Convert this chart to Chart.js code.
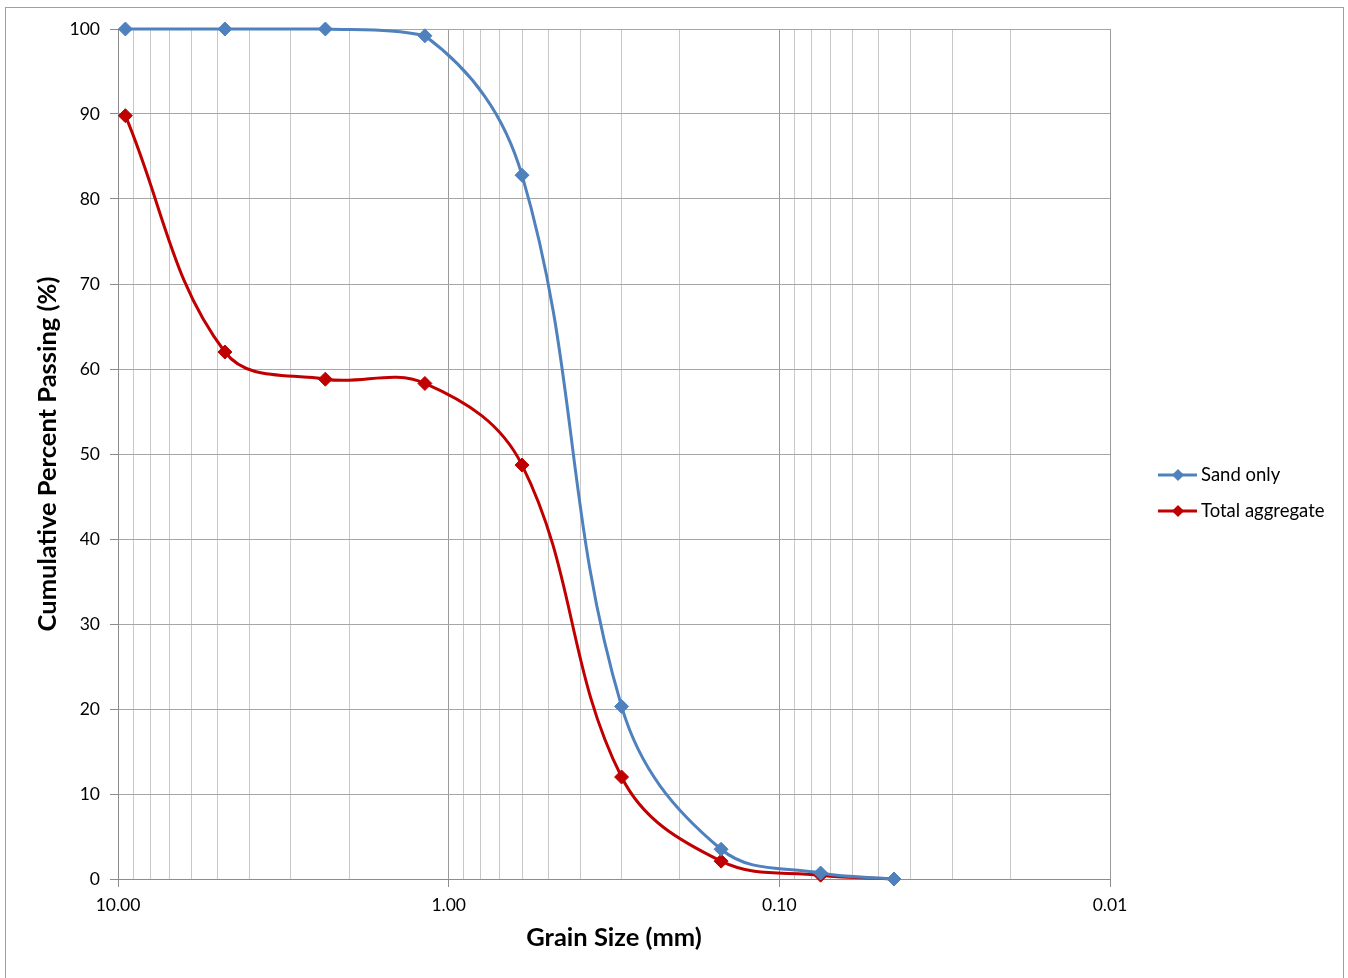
<!DOCTYPE html>
<html>
<head>
<meta charset="utf-8">
<script src="https://cdn.jsdelivr.net/npm/chart.js@4/dist/chart.umd.min.js"></script>
<style>
  html, body { margin: 0; padding: 0; background: #fff; }
  #wrap { position: relative; width: 1348px; height: 978px; }
  #frame { position: absolute; left: 5px; top: 7px; width: 1339px; height: 980px; border: 1px solid #a0a0a0; box-sizing: border-box; }
  canvas { position: absolute; left: 0; top: 0; }
</style>
</head>
<body>
<div id="wrap">
  <div id="frame"></div>
  <canvas id="chart" width="1348" height="978"></canvas>
</div>
<script>
// sieve sizes (mm) and cumulative percent passing
const sieveSizes = [9.5, 4.75, 2.36, 1.18, 0.6, 0.3, 0.15, 0.075, 0.045];
const sandOnly = [100, 100, 100, 99.2, 82.8, 20.3, 3.5, 0.7, 0];
const totalAggregate = [89.8, 62.0, 58.8, 58.3, 48.7, 12.0, 2.1, 0.45, 0];
const seriesNames = ['Sand only', 'Total aggregate'];
const seriesColors = ['#4F81BD', '#C00000'];
const decadeTicks = [10, 1, 0.1, 0.01];
const yTicks = [0, 10, 20, 30, 40, 50, 60, 70, 80, 90, 100];

const FONT = 'Lato, "Open Sans", sans-serif';

function toPoints(values) {
    return sieveSizes.map((s, i) => ({ x: s, y: values[i] }));
}

function isDecade(v) {
    return decadeTicks.some(d => Math.abs(v - d) / d < 1e-6);
}

// legend drawn at the right, outside the plot area
const sideLegend = {
    id: 'sideLegend',
    afterDraw(chart) {
        const ctx = chart.ctx;
        ctx.save();
        chart.data.datasets.forEach((ds, i) => {
            const y = 475 + i * 36;
            ctx.strokeStyle = ds.borderColor;
            ctx.lineWidth = 3;
            ctx.beginPath();
            ctx.moveTo(1158, y);
            ctx.lineTo(1197, y);
            ctx.stroke();
            ctx.fillStyle = ds.borderColor;
            ctx.beginPath();
            ctx.moveTo(1178, y - 6);
            ctx.lineTo(1184, y);
            ctx.lineTo(1178, y + 6);
            ctx.lineTo(1172, y);
            ctx.closePath();
            ctx.fill();
            ctx.fillStyle = '#000';
            ctx.font = '18.5px ' + FONT;
            ctx.textBaseline = 'middle';
            ctx.textAlign = 'left';
            ctx.fillText(ds.label, 1201, y);
        });
        ctx.restore();
    }
};

const datasets = [sandOnly, totalAggregate].map((vals, i) => ({
    label: seriesNames[i],
    data: toPoints(vals),
    borderColor: seriesColors[i],
    backgroundColor: seriesColors[i],
    borderWidth: 3,
    pointStyle: 'rectRot',
    pointRadius: 7,
    pointBorderWidth: 1,
    pointBorderColor: seriesColors[i],
    tension: 0.38,
    clip: false,
    fill: false
}));

new Chart(document.getElementById('chart'), {
    type: 'line',
    data: { datasets },
    options: {
        responsive: false,
        animation: false,
        layout: { padding: { left: 0, top: 29, right: 238, bottom: 0 } },
        plugins: {
            legend: { display: false },
            tooltip: { enabled: false }
        },
        scales: {
            x: {
                type: 'logarithmic',
                reverse: true,
                min: 0.01,
                max: 10,
                afterBuildTicks(scale) {
                    const ticks = [];
                    for (let e = -2; e <= 1; e++) {
                        for (let k = 1; k <= 9; k++) {
                            const v = Math.round(k * Math.pow(10, e) * 1000) / 1000;
                            if (v >= 0.01 && v <= 10) ticks.push({ value: v });
                        }
                    }
                    scale.ticks = ticks;
                },
                afterFit(scale) { scale.height = 99; },
                ticks: {
                    autoSkip: false,
                    maxRotation: 0,
                    color: '#000',
                    font: { family: FONT, size: 17.5 },
                    padding: 8,
                    callback: v => isDecade(v) ? v.toFixed(2) : ''
                },
                grid: {
                    color: ctx => (ctx.tick && isDecade(ctx.tick.value)) ? '#9a9a9a' : '#c8c8c8',
                    lineWidth: 1,
                    tickLength: 8,
                    tickColor: ctx => (ctx.tick && isDecade(ctx.tick.value)) ? '#8c8c8c' : 'rgba(0,0,0,0)'
                },
                border: { color: '#8c8c8c', width: 1 },
                title: {
                    display: true,
                    text: 'Grain Size (mm)',
                    color: '#000',
                    font: { family: FONT, size: 25.5, weight: 'bold' },
                    padding: { top: 0, bottom: 25 }
                }
            },
            y: {
                min: 0,
                max: 100,
                afterBuildTicks(scale) {
                    scale.ticks = yTicks.map(v => ({ value: v }));
                },
                afterFit(scale) { scale.width = 118; },
                ticks: {
                    color: '#000',
                    font: { family: FONT, size: 17.5 },
                    padding: 10
                },
                grid: {
                    color: '#a6a6a6',
                    lineWidth: 1,
                    tickLength: 8,
                    tickColor: '#8c8c8c'
                },
                border: { color: '#8c8c8c', width: 1 },
                title: {
                    display: true,
                    text: 'Cumulative Percent Passing (%)',
                    color: '#000',
                    font: { family: FONT, size: 25.5, weight: 'bold' },
                    padding: { top: 32, bottom: 0 }
                }
            }
        }
    },
    plugins: [sideLegend]
});
</script>
</body>
</html>
